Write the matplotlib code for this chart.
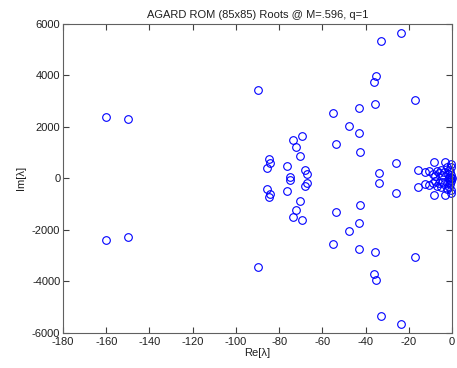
import numpy as np
import matplotlib.pyplot as plt

# complex-conjugate root pairs, upper half (Re, Im)
re_pairs = [-160, -150, -90, -85.5, -84.5, -84, -76.5, -75, -73.5, -72, -70.5, -69.5,
            -68, -67, -55, -53.5, -47.5, -43, -43, -42.5, -36, -35, -35.5, -34,
            -33, -23.5, -26, -17, -15.5, -8.5, -3, -0.5,
            -12.5, -10.5, -9, -8, -7, -6, -5, -4.5, -3.5, -2.5, -2, -1.5, -1, -0.8, -0.5, -0.3]
im_pairs = [2400, 2300, 3440, 400, 740, 610, 480, 65, 1500, 1220, 870, 1640,
            310, 180, 2550, 1320, 2030, 2730, 1750, 1040, 3730, 3960, 2870, 190,
            5340, 5660, 580, 3050, 340, 650, 630, 560,
            230, 270, 180, 100, 300, 200, 330, 130, 240, 420, 160, 320, 60, 230, 450, 120]
# purely real roots
re_real = [-0.2, -0.6, -1.2]

re = np.concatenate([re_pairs, re_pairs, re_real])
im = np.concatenate([im_pairs, -np.array(im_pairs), np.zeros(len(re_real))])

plt.rcParams['font.family'] = ['Liberation Sans', 'DejaVu Sans']
plt.rcParams['axes.unicode_minus'] = False
fig = plt.figure(figsize=(4.57, 3.68), dpi=100)
ax = fig.add_axes([0.138, 0.096, 0.851, 0.839])

ax.plot(re, im, 'o', mfc='none', mec='#0000ff', ms=5.5, mew=0.8, clip_on=False)

ax.set_xlim(-180, 0)
ax.set_ylim(-6000, 6000)
ax.set_xticks(np.arange(-180, 1, 20))
ax.set_yticks(np.arange(-6000, 6001, 2000))
ax.tick_params(direction='in', top=True, right=True, length=4, width=0.8,
               labelsize=8, color='#404040', labelcolor='#202020')
ax.tick_params(axis='x', pad=3)
ax.tick_params(axis='y', pad=2)
for s in ax.spines.values():
    s.set_color('#606060')
    s.set_linewidth(0.8)

ax.set_title('AGARD ROM (85x85) Roots @ M=.596, q=1', fontsize=8, pad=4, color='#202020')
ax.set_xlabel('Re[λ]', fontsize=8, labelpad=1, color='#202020')
ax.set_ylabel('Im[λ]', fontsize=8, labelpad=4, color='#202020')

fig.savefig('out.png', dpi=100)
